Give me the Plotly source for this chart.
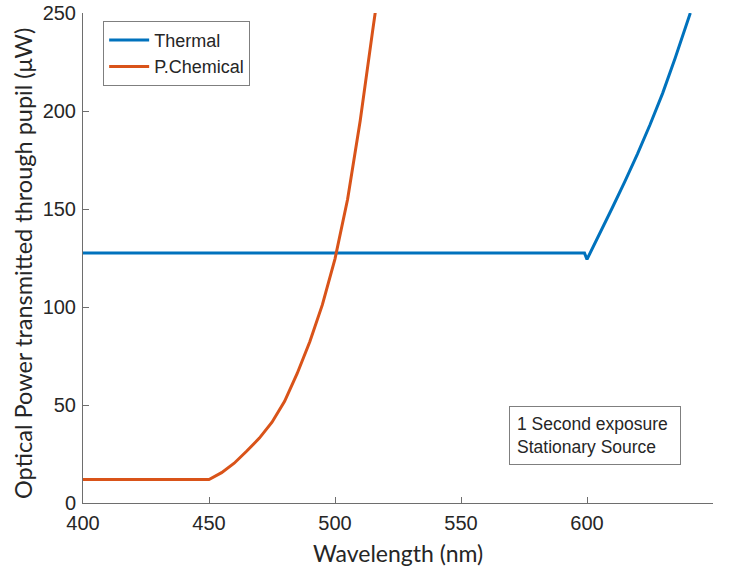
import plotly.graph_objects as go

# Data
thermal_wl = [400, 599, 600, 605, 610, 615, 620, 625, 630, 635, 640, 641]
thermal_pw = [127.5, 127.5, 124.3, 137, 150.5, 164, 178, 193, 209, 227, 246, 250]

chem_wl = [400, 450, 455, 460, 465, 470, 475, 480, 485, 490, 495, 500, 505, 510, 515, 516]
chem_pw = [12, 12, 15.5, 20.3, 26.5, 33.1, 41.2, 51.9, 66.1, 82.3, 101.2, 124.6, 155, 195, 241.5, 250.5]

x_ticks = [400, 450, 500, 550, 600, 650]
y_ticks = [0, 50, 100, 150, 200, 250]

BLUE = "#0072BD"
ORANGE = "#D95319"
TXT = "#262626"
AX = "#6e6e6e"
TICKFONT = "Arial, Liberation Sans, Helvetica, sans-serif"
TITLEFONT = "Lato, Open Sans, sans-serif"

W, H = 729, 567
L, T, PW, PH = 83, 13, 630, 490

fig = go.Figure()
fig.add_trace(go.Scatter(x=thermal_wl, y=thermal_pw, mode="lines", name="Thermal",
                         line=dict(color=BLUE, width=3)))
fig.add_trace(go.Scatter(x=chem_wl, y=chem_pw, mode="lines", name="P.Chemical",
                         line=dict(color=ORANGE, width=3)))

fig.update_layout(
    width=W, height=H, autosize=False,
    margin=dict(l=L, r=W - L - PW, t=T, b=H - T - PH, pad=0),
    paper_bgcolor="white", plot_bgcolor="white",
    showlegend=True,
    legend=dict(x=0.032, y=0.984, xanchor="left", yanchor="top",
                bgcolor="white", bordercolor="#7f7f7f", borderwidth=1,
                font=dict(family=TICKFONT, size=18, color=TXT),
                itemwidth=40, tracegroupgap=0),
    font=dict(family=TICKFONT, color=TXT),
)

fig.update_xaxes(range=[400, 650], tickvals=x_ticks, ticktext=[str(v) for v in x_ticks],
                 showline=True, linecolor=AX, linewidth=1, mirror=False, automargin=False,
                 ticks="inside", ticklen=6, tickcolor=AX, showgrid=False, zeroline=False,
                 tickfont=dict(family=TICKFONT, size=20, color=TXT), ticklabelstandoff=2)
fig.update_yaxes(range=[0, 250], tickvals=y_ticks, ticktext=[str(v) for v in y_ticks],
                 showline=True, linecolor=AX, linewidth=1, mirror=False, automargin=False,
                 ticks="inside", ticklen=6, tickcolor=AX, showgrid=False, zeroline=False,
                 tickfont=dict(family=TICKFONT, size=20, color=TXT), ticklabelstandoff=2)

# Axis titles
fig.add_annotation(text="Wavelength (nm)", xref="paper", yref="paper", x=0.5, y=0,
                   xanchor="center", yanchor="middle", yshift=-50, showarrow=False,
                   font=dict(family=TITLEFONT, size=23, color=TXT))
fig.add_annotation(text="Optical Power transmitted through pupil (μW)", xref="paper", yref="paper",
                   x=0, y=0.5, xanchor="center", yanchor="middle", xshift=-60, yshift=-6,
                   textangle=-90, showarrow=False,
                   font=dict(family=TITLEFONT, size=23.5, color=TXT))

# Text box
fig.add_annotation(text="1 Second exposure <br>Stationary Source", xref="paper", yref="paper",
                   x=(509 - L) / PW, y=(503 - 465) / PH, xanchor="left", yanchor="bottom",
                   align="left", showarrow=False, bgcolor="white",
                   bordercolor="#7f7f7f", borderwidth=1, borderpad=7,
                   font=dict(family=TICKFONT, size=17.5, color=TXT))

fig.write_html("out.html", config={"displayModeBar": False},
               post_script="document.body.style.margin='0';document.body.style.overflow='hidden';")
